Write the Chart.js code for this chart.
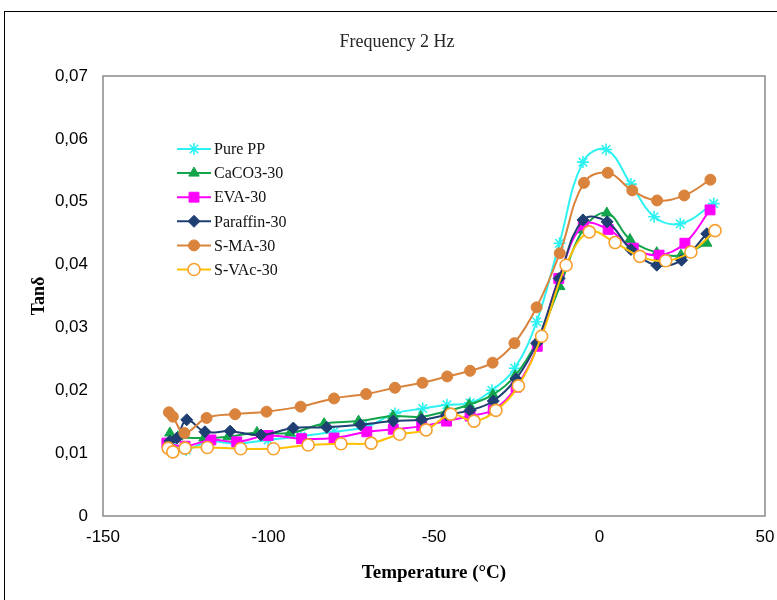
<!DOCTYPE html>
<html>
<head>
<meta charset="utf-8">
<script src="https://cdn.jsdelivr.net/npm/chart.js@4.4.1/dist/chart.umd.min.js"></script>
<style>
html,body{margin:0;padding:0;background:#fff;overflow:hidden;}
#wrap{position:relative;width:777px;height:600px;}
#frame{position:absolute;left:4px;top:11px;width:800px;height:640px;border:1px solid #000;box-sizing:border-box;pointer-events:none;}
canvas{position:absolute;left:0;top:0;}
</style>
</head>
<body>
<div id="wrap"><canvas id="c" width="777" height="600"></canvas><div id="frame"></div></div>
<script>
// ---- data ----
const chartTitle = 'Frequency 2 Hz';
const xTitle = 'Temperature (°C)';
const yTitle = 'Tanδ';
const seriesNames = ['Pure PP', 'CaCO3-30', 'EVA-30', 'Paraffin-30', 'S-MA-30', 'S-VAc-30'];

const purePPTemp = [-130.4, -128.2, -124.9, -117.9, -109.8, -100.1, -90.2, -80.2, -70.5, -61.8, -53.4, -46.1, -39.1, -32.5, -25.6, -19.0, -12.1, -5.0, 2.0, 9.5, 16.5, 24.4, 34.5];
const purePPTan  = [0.0110, 0.0107, 0.0105, 0.0118, 0.0115, 0.0121, 0.0127, 0.0134, 0.0142, 0.0163, 0.0171, 0.0177, 0.0180, 0.0200, 0.0235, 0.0309, 0.0434, 0.0563, 0.0583, 0.0528, 0.0476, 0.0465, 0.0497];

const caco3Temp = [-129.8, -127.4, -119.5, -112.2, -103.5, -93.5, -83.2, -72.8, -62.4, -54.0, -46.1, -39.4, -32.2, -25.5, -18.9, -12.0, -5.0, 2.2, 9.2, 17.3, 24.6, 32.4];
const caco3Tan  = [0.0132, 0.0126, 0.0124, 0.0126, 0.0133, 0.0132, 0.0147, 0.0151, 0.0159, 0.0158, 0.0167, 0.0177, 0.0193, 0.0223, 0.0278, 0.0365, 0.0455, 0.0482, 0.0440, 0.0419, 0.0415, 0.0434];

const evaTemp = [-130.7, -125.2, -117.4, -109.6, -100.1, -90.0, -80.2, -70.3, -62.3, -53.7, -46.2, -39.1, -32.1, -25.2, -18.8, -12.3, -4.9, 2.6, 10.2, 18.0, 25.8, 33.4];
const evaTan  = [0.0116, 0.0111, 0.0121, 0.0118, 0.0128, 0.0123, 0.0124, 0.0134, 0.0138, 0.0143, 0.0151, 0.0159, 0.0169, 0.0205, 0.0270, 0.0378, 0.0463, 0.0456, 0.0426, 0.0415, 0.0434, 0.0487];

const paraffinTemp = [-129.8, -127.7, -124.7, -119.2, -111.6, -102.3, -92.5, -82.4, -72.2, -62.3, -53.7, -46.2, -39.1, -32.1, -25.2, -19.0, -12.2, -5.0, 2.3, 9.5, 17.3, 24.8, 32.4];
const paraffinTan  = [0.0119, 0.0124, 0.0153, 0.0134, 0.0135, 0.0129, 0.0140, 0.0141, 0.0145, 0.0151, 0.0153, 0.0161, 0.0168, 0.0183, 0.0218, 0.0275, 0.0378, 0.0471, 0.0468, 0.0424, 0.0399, 0.0407, 0.0449];

const smaTemp = [-130.1, -128.9, -125.4, -118.7, -110.1, -100.6, -90.3, -80.2, -70.5, -61.8, -53.5, -46.0, -39.1, -32.3, -25.7, -19.0, -12.0, -4.7, 2.5, 9.9, 17.4, 25.6, 33.5];
const smaTan  = [0.0165, 0.0158, 0.0132, 0.0156, 0.0162, 0.0166, 0.0174, 0.0187, 0.0194, 0.0204, 0.0212, 0.0222, 0.0231, 0.0244, 0.0275, 0.0332, 0.0418, 0.0530, 0.0546, 0.0518, 0.0502, 0.0510, 0.0535];

const svacTemp = [-130.3, -128.9, -125.2, -118.5, -108.4, -98.5, -88.0, -78.1, -69.0, -60.4, -52.4, -44.9, -37.9, -31.3, -24.5, -17.5, -10.1, -3.1, 4.7, 12.2, 20.0, 27.6, 34.9];
const svacTan  = [0.0108, 0.0102, 0.0108, 0.0109, 0.0107, 0.0107, 0.0113, 0.0115, 0.0116, 0.0130, 0.0137, 0.0162, 0.0151, 0.0168, 0.0207, 0.0286, 0.0399, 0.0452, 0.0435, 0.0413, 0.0406, 0.0420, 0.0454];

const xTicks = [-150, -100, -50, 0, 50];
const yTicks = [0, 0.01, 0.02, 0.03, 0.04, 0.05, 0.06, 0.07];

// ---- styles ----
const styles = [
  {line:'#2CF2F2', fill:'#2CF2F2', stroke:'#2CF2F2', shape:'star', r:6, bw:1.6},
  {line:'#12A54B', fill:'#12A54B', stroke:'#12A54B', shape:'triangle', r:6, bw:1},
  {line:'#FF00FF', fill:'#FF00FF', stroke:'#FF00FF', shape:'rect', r:7, bw:1},
  {line:'#1F3F73', fill:'#1F3F73', stroke:'#1F3F73', shape:'rectRot', r:6, bw:1},
  {line:'#D9833C', fill:'#D9833C', stroke:'#D9833C', shape:'circle', r:5.5, bw:1},
  {line:'#FFC000', fill:'#FFFFFF', stroke:'#F7A030', shape:'circle', r:6, bw:1.6}
];
const temps = [purePPTemp, caco3Temp, evaTemp, paraffinTemp, smaTemp, svacTemp];
const tans = [purePPTan, caco3Tan, evaTan, paraffinTan, smaTan, svacTan];

const datasets = seriesNames.map((name, i) => ({
  label: name,
  data: temps[i].map((t, k) => ({x: t, y: tans[i][k]})),
  borderColor: styles[i].line,
  backgroundColor: styles[i].fill,
  borderWidth: 2,
  pointStyle: styles[i].shape,
  pointRadius: styles[i].r,
  pointBackgroundColor: styles[i].fill,
  pointBorderColor: styles[i].stroke,
  pointBorderWidth: styles[i].bw,
  tension: 0.4,
  showLine: true,
  fill: false,
  order: seriesNames.length - i
}));

function drawMarker(ctx, st, x, y) {
  ctx.save();
  ctx.fillStyle = st.fill;
  ctx.strokeStyle = st.stroke;
  ctx.lineWidth = st.bw;
  const r = st.r;
  ctx.beginPath();
  if (st.shape === 'circle') {
    ctx.arc(x, y, r, 0, Math.PI * 2);
    ctx.fill(); ctx.stroke();
  } else if (st.shape === 'rect') {
    const s = r * Math.SQRT1_2;
    ctx.rect(x - s, y - s, 2 * s, 2 * s);
    ctx.fill(); ctx.stroke();
  } else if (st.shape === 'rectRot') {
    ctx.moveTo(x, y - r); ctx.lineTo(x + r, y); ctx.lineTo(x, y + r); ctx.lineTo(x - r, y); ctx.closePath();
    ctx.fill(); ctx.stroke();
  } else if (st.shape === 'triangle') {
    ctx.moveTo(x, y - r); ctx.lineTo(x + r * 0.866, y + r * 0.5); ctx.lineTo(x - r * 0.866, y + r * 0.5); ctx.closePath();
    ctx.fill(); ctx.stroke();
  } else if (st.shape === 'star') {
    for (let a = 0; a < 4; a++) {
      const ang = a * Math.PI / 4;
      ctx.moveTo(x - r * Math.cos(ang), y - r * Math.sin(ang));
      ctx.lineTo(x + r * Math.cos(ang), y + r * Math.sin(ang));
    }
    ctx.stroke();
  }
  ctx.restore();
}

const decorPlugin = {
  id: 'decor',
  beforeDatasetsDraw(chart) {
    const {ctx, chartArea: a} = chart;
    ctx.save();
    ctx.strokeStyle = '#8a8a8a';
    ctx.lineWidth = 1.5;
    ctx.strokeRect(a.left, a.top, a.right - a.left, a.bottom - a.top);
    ctx.restore();
  },
  afterDraw(chart) {
    const ctx = chart.ctx;
    ctx.save();
    ctx.fillStyle = '#262626';
    ctx.font = '18px "Liberation Serif"';
    ctx.textAlign = 'center';
    ctx.textBaseline = 'middle';
    ctx.fillText(chartTitle, 397, 42);
    // in-plot legend
    const x0 = 177, x1 = 211, tx = 214, y0 = 149, dy = 24.1;
    ctx.font = '16px "Liberation Serif"';
    ctx.textAlign = 'left';
    seriesNames.forEach((name, i) => {
      const y = y0 + i * dy;
      ctx.strokeStyle = styles[i].line;
      ctx.lineWidth = 2;
      ctx.beginPath(); ctx.moveTo(x0, y); ctx.lineTo(x1, y); ctx.stroke();
      drawMarker(ctx, styles[i], (x0 + x1) / 2, y);
      ctx.fillStyle = '#111';
      ctx.fillText(name, tx, y + 1);
    });
    ctx.restore();
  }
};

new Chart(document.getElementById('c'), {
  type: 'scatter',
  data: {datasets},
  options: {
    responsive: false,
    animation: false,
    devicePixelRatio: 1,
    layout: {padding: {left: 29, right: 12, top: 76, bottom: 16}},
    plugins: {legend: {display: false}, tooltip: {enabled: false}, title: {display: false}},
    scales: {
      x: {
        type: 'linear', min: -150, max: 50,
        afterFit(s) { s.height = 68; s.paddingRight = 0; s.paddingLeft = 0; },
        afterBuildTicks(s) { s.ticks = xTicks.map(v => ({value: v})); },
        grid: {display: false, drawTicks: false},
        border: {display: false},
        ticks: {padding: 11, color: '#000', font: {family: '"Liberation Sans", Arial', size: 17},
          callback: v => String(v)},
        title: {display: true, text: xTitle, color: '#000', padding: 0,
          font: {family: '"Liberation Serif"', size: 19, weight: 'bold', lineHeight: 1.2}}
      },
      y: {
        type: 'linear', min: 0, max: 0.07,
        afterFit(s) { s.width = 74; s.paddingTop = 0; s.paddingBottom = 0; },
        afterBuildTicks(s) { s.ticks = yTicks.map(v => ({value: v})); },
        grid: {display: false, drawTicks: false},
        border: {display: false},
        ticks: {padding: 15, color: '#000', font: {family: '"Liberation Sans", Arial', size: 17},
          callback: v => v === 0 ? '0' : v.toFixed(2).replace('.', ',')},
        title: {display: true, text: yTitle, color: '#000', padding: 0,
          font: {family: '"Liberation Serif"', size: 18, weight: 'bold', lineHeight: 1.2}}
      }
    }
  },
  plugins: [decorPlugin]
});
</script>
</body>
</html>
